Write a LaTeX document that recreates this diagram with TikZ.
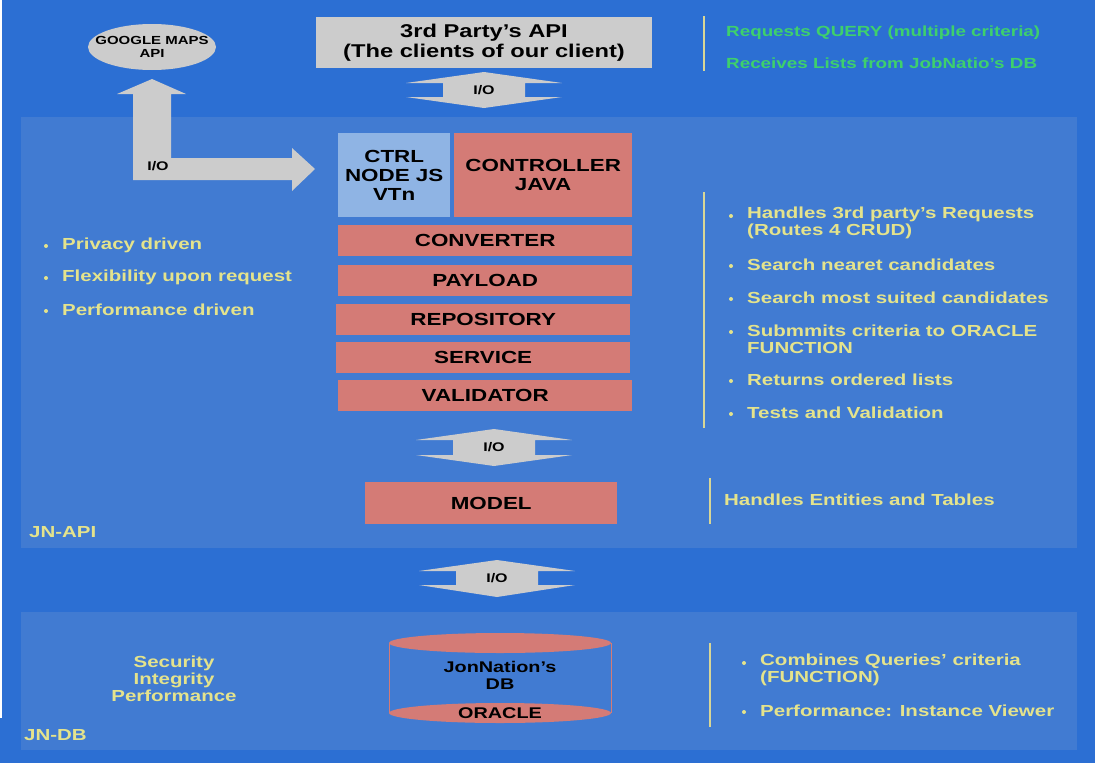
\documentclass[tikz,border=0pt]{standalone}
\usepackage{fontspec}
\setmainfont[FakeStretch=1.28]{Liberation Sans}
\usepackage{xcolor}
\usetikzlibrary{shapes.geometric}

\definecolor{bgblue}{RGB}{44,111,211}
\definecolor{panelblue}{RGB}{65,123,210}
\definecolor{boxred}{RGB}{212,123,118}
\definecolor{boxlight}{RGB}{143,180,228}
\definecolor{arrowgray}{RGB}{204,204,204}
\definecolor{noteyellow}{RGB}{228,227,140}
\definecolor{notegreen}{RGB}{62,208,108}
\definecolor{ruleyellow}{RGB}{216,214,150}

\tikzset{
  layer/.style={fill=panelblue, draw=none},
  redbox/.style={fill=boxred, draw=none, text=black, align=center, inner sep=0pt,
    font=\bfseries\fontsize{17.5}{19}\selectfont},
  ioarrow/.style={fill=arrowgray, draw=none},
  iolabel/.style={text=black, font=\bfseries\fontsize{12.5}{14}\selectfont, inner sep=1pt},
  note/.style={text=noteyellow, anchor=west, align=left, inner sep=0pt,
    font=\bfseries\fontsize{16}{17}\selectfont},
  dot/.style={circle, fill=noteyellow, draw=none, inner sep=0pt, minimum size=4pt},
  sidebar/.style={ruleyellow, line width=1.2pt}
}

\begin{document}
\begin{tikzpicture}[x=1pt, y=-1pt]
\useasboundingbox (0,0) rectangle (1095,763);
\fill[bgblue] (0,0) rectangle (1095,763);
\fill[white] (0,0) rectangle (2,718);

% layers
\fill[layer] (21,117) rectangle (1077,548);
\fill[layer] (21,612) rectangle (1077,750);
\node[note] (apilabel) at (29,532) {JN-API};
\node[note] (dblabel) at (24,735) {JN-DB};

% clients
\node[fill=arrowgray, text=black, align=center, minimum width=336pt, minimum height=51pt,
  inner sep=0pt, font=\bfseries\fontsize{18.5}{20}\selectfont] (third) at (484,42.5)
  {3rd Party's API\\(The clients of our client)};
\node[ellipse, fill=arrowgray, inner sep=0pt, minimum width=128pt, minimum height=46pt] (gmaps) at (152,47) {};
\node[text=black, align=center, inner sep=0pt, font=\bfseries\fontsize{11.7}{12.5}\selectfont] (gmapstext) at (gmaps.center)
  {GOOGLE MAPS\\API};

% I/O arrows
\foreach \cx/\ya/\yb/\yc/\yd/\nm in {484/72/83/97/108/top, 494/429/440/455/466/mid, 497/560/571/585/597/low}{
  \fill[ioarrow] (\cx,\ya) -- (\cx+78,\yb) -- (\cx+41,\yb) -- (\cx+41,\yc) -- (\cx+78,\yc)
    -- (\cx,\yd) -- (\cx-78,\yc) -- (\cx-41,\yc) -- (\cx-41,\yb) -- (\cx-78,\yb) -- cycle;
  \node[iolabel] (io\nm) at (\cx,{(\yb+\yc)/2}) {I/O};
}
\fill[ioarrow] (133,180) -- (133,94) -- (117,94) -- (152,79) -- (186,94) -- (171,94)
  -- (171,158) -- (292,158) -- (292,148) -- (315,169) -- (292,191) -- (292,180) -- cycle;
\node[iolabel] (iomaps) at (158,166) {I/O};

% API stack
\node[redbox, fill=boxlight, anchor=north west, minimum width=112pt, minimum height=84pt] (ctrljs) at (338,133) {CTRL\\NODE JS\\VTn};
\node[redbox, anchor=north west, minimum width=178pt, minimum height=84pt] (ctrljava) at (454,133) {CONTROLLER\\JAVA};
\node[redbox, anchor=north west, minimum width=294pt, minimum height=31pt] (converter) at (338,225) {CONVERTER};
\node[redbox, anchor=north west, minimum width=294pt, minimum height=31pt] (payload) at (338,265) {PAYLOAD};
\node[redbox, anchor=north west, minimum width=294pt, minimum height=31pt] (repository) at (336,304) {REPOSITORY};
\node[redbox, anchor=north west, minimum width=294pt, minimum height=31pt] (service) at (336,342) {SERVICE};
\node[redbox, anchor=north west, minimum width=294pt, minimum height=31pt] (validator) at (338,380) {VALIDATOR};
\node[redbox, anchor=north west, minimum width=252pt, minimum height=42pt] (model) at (365,482) {MODEL};

% database
\fill[boxred] (500,713) ellipse (111pt and 10pt);
\draw[boxred, line width=1pt] (389,643) -- (389,713);
\draw[boxred, line width=1pt] (611,643) -- (611,713);
\fill[boxred] (500,643) ellipse (111pt and 10pt);
\node[text=black, align=center, font=\bfseries\fontsize{15.5}{17}\selectfont] (dbname) at (500,675) {JonNation's\\DB};
\node[text=black, font=\bfseries\fontsize{15.5}{17}\selectfont] (oracle) at (500,713) {ORACLE};

% notes, top right
\draw[sidebar] (704,16) -- (704,71);
\node[note, text=notegreen, font=\bfseries\fontsize{14.7}{16}\selectfont] (req) at (726,33) {Requests QUERY (multiple criteria)};
\node[note, text=notegreen, font=\bfseries\fontsize{14.7}{16}\selectfont] (recv) at (726,63) {Receives Lists from JobNatio's DB};

% notes, API right
\draw[sidebar] (704,192) -- (704,428);
\foreach \yy/\dy/\txt in {223/8/{Handles 3rd party's Requests\\(Routes 4 CRUD)}, 265/0/{Search nearet candidates},
  298/0/{Search most suited candidates}, 339/8/{Submmits criteria to ORACLE\\FUNCTION},
  380/0/{Returns ordered lists}, 413/0/{Tests and Validation}}{
  \node[dot] at (731,\yy-\dy+1) {};
  \node[note] at (747,\yy) {\txt};
}

% notes, API left
\foreach \yy/\txt in {245/{Privacy driven}, 277/{Flexibility upon request}, 310/{Performance driven}}{
  \node[dot] at (46,\yy+1) {};
  \node[note] at (62,\yy) {\txt};
}

% notes, model
\draw[sidebar] (710,478) -- (710,524);
\node[note] (entities) at (724,500) {Handles Entities and Tables};

% notes, DB
\node[note, anchor=center, align=center] (quality) at (174,679) {Security\\Integrity\\Performance};
\draw[sidebar] (710,643) -- (710,727);
\node[dot] (dot1) at (744,663) {};
\node[note] (combines) at (760,670) {Combines Queries' criteria\\(FUNCTION)};
\node[dot] (dot2) at (744,712) {};
\node[note] (perf) at (760,711) {Performance: Instance Viewer};
\end{tikzpicture}
\end{document}
